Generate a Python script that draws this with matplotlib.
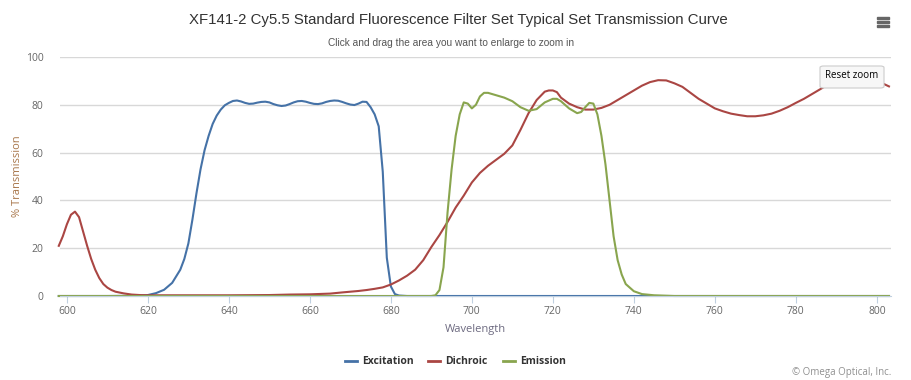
import matplotlib.pyplot as plt
from matplotlib.patches import FancyBboxPatch, Rectangle

# wavelength (nm) / % transmission
exc_wl = [598, 610, 618, 620, 622, 624, 626, 628, 629, 630, 631, 632, 633, 634, 635, 636, 637,
          638, 639, 640, 641, 642, 643, 644, 645, 646, 647, 648, 649, 650, 651, 652, 653, 654,
          655, 656, 657, 658, 659, 660, 661, 662, 663, 664, 665, 666, 667, 668, 669, 670, 671,
          672, 673, 674, 675, 676, 677, 678, 679, 680, 681, 682, 684, 690, 803]
exc_t = [0, 0, 0.1, 0.4, 1.2, 2.6, 5.5, 11, 15.5, 22, 32, 43, 53, 61, 67, 72, 75.5,
         78, 79.8, 80.8, 81.6, 81.8, 81.4, 80.8, 80.4, 80.5, 80.9, 81.2, 81.3, 81.0, 80.3, 79.8, 79.5, 79.7,
         80.3, 81.0, 81.5, 81.6, 81.3, 80.8, 80.4, 80.3, 80.6, 81.2, 81.6, 81.8, 81.7, 81.2, 80.6, 80.1, 79.9,
         80.5, 81.3, 81.2, 79, 76, 71, 52, 16, 4, 0.8, 0.2, 0, 0, 0]

dic_wl = [598, 599, 600, 601, 602, 603, 604, 605, 606, 607, 608, 609, 610, 611, 612, 614, 616,
          618, 620, 630, 640, 650, 655, 660, 665, 668, 670, 672, 674, 676, 678, 680, 682, 684,
          686, 688, 690, 692, 694, 696, 698, 700, 702, 704, 706, 708, 710, 712, 714, 716, 718,
          719, 720, 721, 722, 724, 726, 728, 730, 732, 734, 736, 738, 740, 742, 744, 746, 748,
          750, 752, 754, 756, 758, 760, 762, 764, 766, 768, 770, 772, 774, 776, 778, 780, 782,
          784, 786, 788, 790, 792, 794, 796, 798, 800, 802, 803]
dic_t = [21, 25, 30, 34, 35.3, 33, 27, 21, 15.5, 11, 7.5, 5, 3.5, 2.5, 1.8, 1.1, 0.6,
         0.4, 0.3, 0.3, 0.3, 0.4, 0.6, 0.7, 1.0, 1.5, 1.8, 2.1, 2.5, 3.0, 3.6, 4.8, 6.5, 8.5,
         11, 15, 20.5, 25.5, 31, 37, 42, 47.5, 51.5, 54.5, 57, 59.5, 63, 69.5, 76.5, 82, 85.5,
         86, 86, 85.3, 83, 80.5, 79, 78, 78, 78.7, 80, 82, 84, 86, 88, 89.5, 90.3, 90.2,
         89, 87.5, 85, 82.5, 80.5, 78.5, 77.3, 76.3, 75.7, 75.2, 75.2, 75.6, 76.3, 77.5, 79, 80.8, 82.5,
         84.5, 86.5, 88.5, 90, 91, 91.4, 91.5, 91.2, 90, 88.5, 87.7]

emi_wl = [598, 690, 691, 692, 693, 694, 695, 696, 697, 698, 699, 700, 701, 702, 703, 704, 706,
          708, 710, 712, 714, 716, 718, 720, 721, 722, 724, 726, 727, 728, 729, 730, 731, 732,
          733, 734, 735, 736, 737, 738, 740, 742, 745, 750, 803]
emi_t = [0, 0, 0.3, 2.5, 12, 35, 53, 67, 76, 81, 80.5, 78.5, 80, 83.5, 85, 85, 84,
         83, 81.5, 79, 77.5, 78.2, 81, 82.5, 82.5, 81.5, 78.5, 76.5, 77, 79, 80.8, 80.5, 76, 67,
         55, 40, 25, 15, 9, 5, 2, 0.8, 0.3, 0, 0]

series = [("Excitation", exc_wl, exc_t, "#4572A7"),
          ("Dichroic", dic_wl, dic_t, "#AA4643"),
          ("Emission", emi_wl, emi_t, "#89A54E")]

plt.rcParams['font.family'] = ['Liberation Sans Narrow', 'Liberation Sans', 'DejaVu Sans']

W, H = 911, 380
fig = plt.figure(figsize=(W / 100, H / 100), dpi=100)
ax = fig.add_axes([60 / W, 1 - 296 / H, 831 / W, 239 / H])

for name, wl, t, col in series:
    ax.plot(wl, t, color=col, lw=1.5, solid_joinstyle="round", clip_on=False)

ax.set_xlim(598.3, 803.5)
ax.set_ylim(0, 100)
ax.set_xticks(range(600, 801, 20))
ax.set_yticks(range(0, 101, 20))
ax.grid(axis="y", color="#d8d8d8", lw=1)
ax.set_axisbelow(True)
for s in ["top", "right", "left"]:
    ax.spines[s].set_visible(False)
ax.spines["bottom"].set_color("#C0D0E0")
ax.tick_params(axis="x", colors="#C0D0E0", length=5, labelcolor="#666666", labelsize=8.5, pad=2)
ax.tick_params(axis="y", length=0, labelcolor="#666666", labelsize=8.5, pad=12)
for lab in ax.get_xticklabels() + ax.get_yticklabels():
    lab.set_family(['Open Sans', 'DejaVu Sans'])
    lab.set_fontsize(7.5)
ax.set_xlabel("Wavelength", color="#6d6a80", fontsize=8, labelpad=5, family=['Open Sans', 'DejaVu Sans'])
fig.text(18 / W, 1 - 176 / H, "% Transmission", rotation=90, ha="center", va="center",
         color="#a8764a", fontsize=8, family=['Open Sans', 'DejaVu Sans'])

fig.text(458 / W, 1 - 20 / H, "XF141-2 Cy5.5 Standard Fluorescence Filter Set Typical Set Transmission Curve",
         ha="center", va="center", fontsize=10.8, color="#333333")
fig.text(451 / W, 1 - 43 / H, "Click and drag the area you want to enlarge to zoom in",
         ha="center", va="center", fontsize=7.3, color="#555555")

# hamburger menu icon
for yy in (18, 22, 26):
    fig.patches.append(Rectangle((877 / W, 1 - (yy + 1) / H), 12 / W, 2 / H,
                                 transform=fig.transFigure, color="#666666"))

# reset zoom button
fig.patches.append(FancyBboxPatch((820 / W, 1 - 88 / H), 64 / W, 22 / H,
                                  boxstyle="round,pad=0,rounding_size=0.004",
                                  transform=fig.transFigure, facecolor="#f7f7f7",
                                  edgecolor="#cccccc", lw=0.8, zorder=5))
fig.text(852 / W, 1 - 76 / H, "Reset zoom", ha="center", va="center", fontsize=7,
         color="#000000", zorder=6, family=['Open Sans', 'DejaVu Sans'])

# legend
lx = [345, 428, 503]
for (name, wl, t, col), x0 in zip(series, lx):
    fig.lines.append(plt.Line2D([x0 / W, (x0 + 12) / W], [1 - 361 / H, 1 - 361 / H],
                                transform=fig.transFigure, color=col, lw=2))
    fig.text((x0 + 17) / W, 1 - 361 / H, name, ha="left", va="center", fontsize=7.5,
             fontweight="bold", color="#333333", family=['Open Sans', 'DejaVu Sans'])

fig.text(891 / W, 1 - 372 / H, "\u00a9 Omega Optical, Inc.", ha="right", va="center",
         fontsize=7, color="#909090", family=['Open Sans', 'DejaVu Sans'])

fig.savefig("out.png", dpi=100)
